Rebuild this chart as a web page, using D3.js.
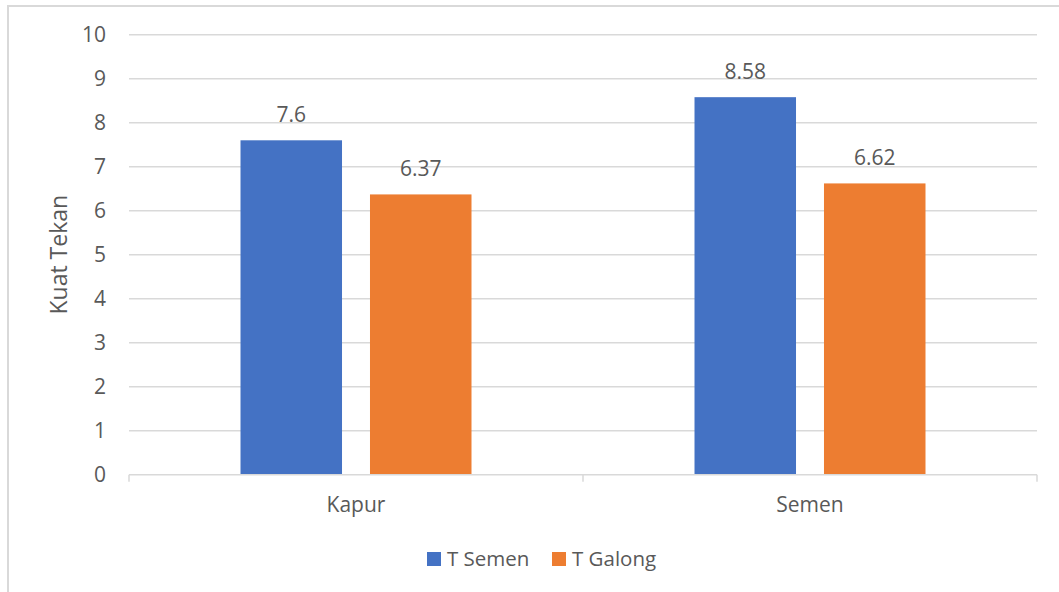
<!DOCTYPE html>
<html>
<head>
<meta charset="utf-8">
<script src="https://cdn.jsdelivr.net/npm/d3@7"></script>
<style>
  body { margin: 0; background: #fff; }
  text { font-family: "Open Sans", sans-serif; fill: #595959; }
</style>
</head>
<body>
<div id="chart"></div>
<script>
// data
const categories = ['Kapur', 'Semen'];
const seriesNames = ['T Semen', 'T Galong'];
const tSemen = [7.6, 8.58];
const tGalong = [6.37, 6.62];
const yTicks = [0, 1, 2, 3, 4, 5, 6, 7, 8, 9, 10];
const colors = ['#4472c4', '#ed7d31'];

const width = 1059, height = 592;
const plot = { left: 129, right: 1037, top: 34.7, bottom: 474.7 };

const svg = d3.select('#chart').append('svg')
  .attr('width', width)
  .attr('height', height);

// outer chart border
svg.append('rect')
  .attr('x', 8).attr('y', 6)
  .attr('width', width).attr('height', height)
  .attr('fill', 'none')
  .attr('stroke', '#d9d9d9')
  .attr('stroke-width', 2);

const x = d3.scaleBand()
  .domain(categories)
  .range([plot.left, plot.right]);

const bandW = x.bandwidth();
const xs = d3.scaleBand()
  .domain(seriesNames)
  .range([bandW * 0.2456, bandW * 0.7544])
  .paddingInner(0.216);

const y = d3.scaleLinear()
  .domain([0, 10])
  .range([plot.bottom, plot.top]);

// gridlines
svg.append('g')
  .selectAll('line')
  .data(yTicks.filter(d => d > 0))
  .enter()
  .append('line')
  .attr('x1', plot.left).attr('x2', plot.right)
  .attr('y1', d => y(d)).attr('y2', d => y(d))
  .attr('stroke', '#d9d9d9')
  .attr('stroke-width', 1.5);

// y tick labels
svg.append('g')
  .selectAll('text')
  .data(yTicks)
  .enter()
  .append('text')
  .attr('x', 106)
  .attr('y', d => y(d))
  .attr('dy', '0.35em')
  .attr('text-anchor', 'end')
  .style('font-size', '21px')
  .text(d => d);

// bars
const rows = categories.map((c, i) => ({ cat: c, values: [tSemen[i], tGalong[i]] }));

const groups = svg.selectAll('.cat')
  .data(rows)
  .enter()
  .append('g')
  .attr('class', 'cat')
  .attr('transform', d => `translate(${x(d.cat)},0)`);

groups.selectAll('rect')
  .data(d => d.values.map((v, j) => ({ name: seriesNames[j], value: v, j: j })))
  .enter()
  .append('rect')
  .attr('x', d => xs(d.name))
  .attr('width', xs.bandwidth())
  .attr('y', d => y(d.value))
  .attr('height', d => y(0) - y(d.value))
  .attr('fill', d => colors[d.j]);

groups.selectAll('.lbl')
  .data(d => d.values.map((v, j) => ({ name: seriesNames[j], value: v })))
  .enter()
  .append('text')
  .attr('class', 'lbl')
  .attr('x', d => xs(d.name) + xs.bandwidth() / 2)
  .attr('y', d => y(d.value) - 18)
  .attr('text-anchor', 'middle')
  .style('font-size', '21px')
  .text(d => d.value);

// x axis line and ticks
const xAxis = svg.append('g');
xAxis.append('line')
  .attr('x1', plot.left).attr('x2', plot.right)
  .attr('y1', y(0)).attr('y2', y(0))
  .attr('stroke', '#d9d9d9')
  .attr('stroke-width', 1.5);
const tickXs = [plot.left].concat(categories.map(c => x(c) + x.bandwidth()));
xAxis.selectAll('.tick')
  .data(tickXs)
  .enter()
  .append('line')
  .attr('x1', d => d).attr('x2', d => d)
  .attr('y1', y(0)).attr('y2', y(0) + 7)
  .attr('stroke', '#d9d9d9')
  .attr('stroke-width', 1.5);

xAxis.selectAll('.catlbl')
  .data(categories)
  .enter()
  .append('text')
  .attr('x', d => x(d) + x.bandwidth() / 2)
  .attr('y', 512)
  .attr('text-anchor', 'middle')
  .style('font-size', '21px')
  .text(d => d);

// y axis title
svg.append('text')
  .attr('transform', `translate(67, ${(plot.top + plot.bottom) / 2}) rotate(-90)`)
  .attr('text-anchor', 'middle')
  .style('font-size', '23px')
  .text('Kuat Tekan');

// legend
const legend = svg.append('g').attr('transform', 'translate(427, 552)');
const legX = [0, 125];
seriesNames.forEach((s, i) => {
  const g = legend.append('g').attr('transform', `translate(${legX[i]},0)`);
  g.append('rect')
    .attr('width', 14).attr('height', 14)
    .attr('fill', colors[i]);
  g.append('text')
    .attr('x', 20).attr('y', 14)
    .style('font-size', '20.5px')
    .text(s);
});
</script>
</body>
</html>
